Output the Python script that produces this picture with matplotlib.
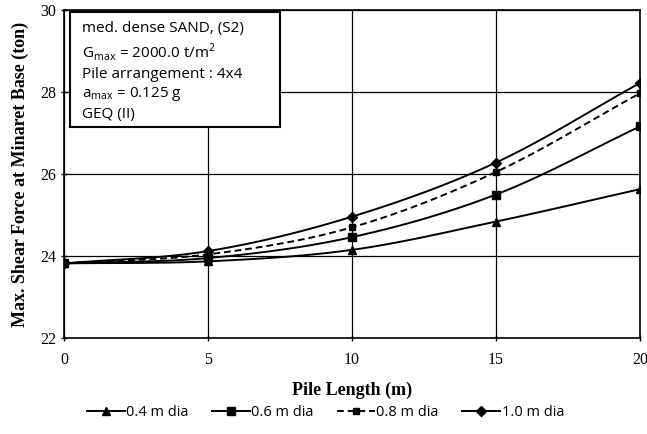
import numpy as np
import matplotlib
matplotlib.use("Agg")
import matplotlib.pyplot as plt
from matplotlib.patches import Rectangle

plt.rcParams.update({
    "font.family": "serif",
    "font.serif": ["Liberation Serif", "DejaVu Serif"],
})

# data
pile_length = [0, 5, 10, 15, 20]
dia_04 = [23.82, 23.87, 24.15, 24.84, 25.63]
dia_06 = [23.82, 23.95, 24.46, 25.50, 27.16]
dia_08 = [23.82, 24.04, 24.70, 26.05, 27.97]
dia_10 = [23.82, 24.12, 24.96, 26.28, 28.22]
labels = ["0.4 m dia", "0.6 m dia", "0.8 m dia", "1.0 m dia"]


def smooth(x, y, n=30):
    # Catmull-Rom curve through the points (like Excel "smoothed line")
    x = np.asarray(x, float)
    y = np.asarray(y, float)
    px = np.concatenate([[2 * x[0] - x[1]], x, [2 * x[-1] - x[-2]]])
    py = np.concatenate([[2 * y[0] - y[1]], y, [2 * y[-1] - y[-2]]])
    xs, ys = [], []
    t = np.linspace(0, 1, n)
    for i in range(1, len(px) - 2):
        for p, out in ((px, xs), (py, ys)):
            p0, p1, p2, p3 = p[i - 1], p[i], p[i + 1], p[i + 2]
            out.extend(0.5 * (2 * p1 + (-p0 + p2) * t
                              + (2 * p0 - 5 * p1 + 4 * p2 - p3) * t ** 2
                              + (-p0 + 3 * p1 - 3 * p2 + p3) * t ** 3))
    return xs, ys


fig = plt.figure(figsize=(6.47, 4.34), dpi=100)
ax = fig.add_axes([64 / 647, 96 / 434, 576 / 647, 328 / 434])

series = [
    (dia_04, "^", "-", 6),
    (dia_06, "s", "-", 6),
    (dia_08, "s", (0, (3.5, 2)), 5),
    (dia_10, "D", "-", 5),
]
for (y, mk, ls, ms), lab in zip(series, labels):
    sx, sy = smooth(pile_length, y)
    ax.plot(sx, sy, color="black", lw=1.4, ls=ls)
    ax.plot(pile_length, y, ls="none", marker=mk, ms=ms, color="black")
    ax.plot([], [], color="black", lw=1.4, ls=ls, marker=mk, ms=ms, label=lab)

ax.set_xlim(0, 20)
ax.set_ylim(22, 30)
ax.set_xticks([0, 5, 10, 15, 20])
ax.set_yticks([22, 24, 26, 28, 30])
ax.grid(True, color="black", lw=0.9)
for s in ax.spines.values():
    s.set_color("black")
    s.set_linewidth(1.2)
ax.tick_params(axis="both", labelsize=11.5, length=4, direction="inout", width=1)
ax.tick_params(axis="x", pad=8)

ax.set_xlabel("Pile Length (m)", fontsize=13, fontweight="bold", labelpad=10)
ax.set_ylabel("Max. Shear Force at Minaret Base (ton)", fontsize=13,
              fontweight="bold", labelpad=8)

# info box
ax.add_patch(Rectangle((0.0104, 0.643), 0.365, 0.351, transform=ax.transAxes,
                       fc="white", ec="black", lw=1.5, zorder=5))
info = ("med. dense SAND, (S2)\n"
        "G$_{\\mathregular{max}}$ = 2000.0 t/m$^{\\mathregular{2}}$\n"
        "Pile arrangement : 4x4\n"
        "a$_{\\mathregular{max}}$ = 0.125 g\n"
        "GEQ (II)")
ax.text(0.031, 0.965, info, transform=ax.transAxes, fontsize=11,
        family=["Open Sans", "DejaVu Sans"], va="top", ha="left",
        linespacing=1.3, zorder=6)

fig.legend(loc="center", bbox_to_anchor=(0.503, 21 / 434),
           ncol=4, frameon=False, handlelength=2.6, columnspacing=1.6,
           handletextpad=0.1, prop={"family": "Open Sans", "size": 10.5})

fig.savefig("out.png", dpi=100)
